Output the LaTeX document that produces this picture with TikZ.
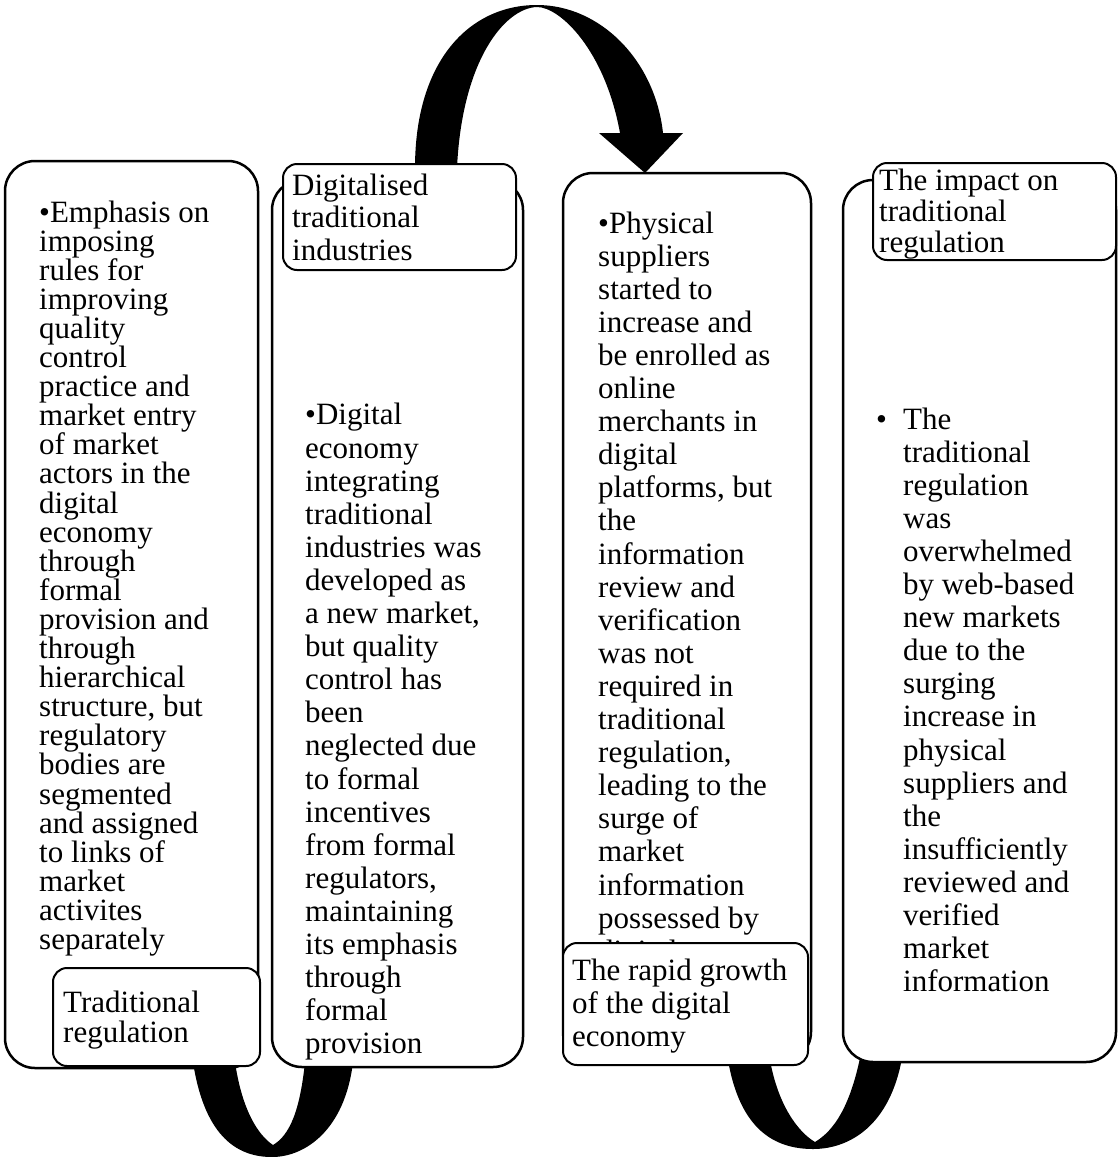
\documentclass[tikz,border=0pt]{standalone}
\usepackage{fontspec}
\setmainfont{Liberation Serif}
\begin{document}
\begin{tikzpicture}[x=1pt,y=-1pt,
  bigbox/.style={draw=black,fill=white,line width=2.5pt,rounded corners=30pt},
  labelbox/.style={draw=black,fill=white,line width=2pt,rounded corners=14pt},
  bodytext/.style={anchor=base west,align=left,inner sep=0pt,font=\fontsize{31}{33.1}\selectfont},
  band/.style={fill=black}]
\useasboundingbox (0,0) rectangle (1117,1157);
% the curved bands
\fill[band] (415,168) .. controls (415,60) and (470,5) .. (537,5) .. controls (600,5) and (655,60) .. (663,133) -- (683,133) -- (645,173) -- (599,133) -- (620,133) .. controls (605,50) and (560,7) .. (537,7) .. controls (505,8) and (462,60) .. (457,168) -- cycle;
\fill[band] (193,1062) .. controls (205,1140) and (240,1157) .. (272,1157) .. controls (305,1157) and (345,1130) .. (353,1062) -- (305,1062) .. controls (300,1110) and (290,1135) .. (273,1145) .. controls (258,1135) and (242,1110) .. (235,1062) -- cycle;
\fill[band] (728,1060) .. controls (740,1130) and (775,1149) .. (813,1149) .. controls (850,1149) and (890,1125) .. (902,1058) -- (860,1058) .. controls (850,1105) and (835,1130) .. (815,1142) .. controls (798,1132) and (778,1105) .. (770,1060) -- cycle;
% columns (text anchored at the baseline of its last line)
\draw[bigbox] (5,161) rectangle (258,1068);
\draw[bigbox] (272,180) rectangle (523,1067);
\draw[bigbox] (563,173) rectangle (811,1062);
\draw[bigbox] (843,180) rectangle (1116,1062);
\node[bodytext,font=\fontsize{31}{29.1}\selectfont] (tradtxt) at (39,949.5) {•Emphasis on\\imposing\\rules for\\improving\\quality\\control\\practice and\\market entry\\of market\\actors in the\\digital\\economy\\through\\formal\\provision and\\through\\hierarchical\\structure, but\\regulatory\\bodies are\\segmented\\and assigned\\to links of\\market\\activites\\separately};
\node[bodytext] (digitxt) at (305,1053.8) {•Digital\\economy\\integrating\\traditional\\industries was\\developed as\\a new market,\\but quality\\control has\\been\\neglected due\\to formal\\incentives\\from formal\\regulators,\\maintaining\\its emphasis\\through\\formal\\provision};
\node[bodytext] (growtxt) at (598,961.2) {•Physical\\suppliers\\started to\\increase and\\be enrolled as\\online\\merchants in\\digital\\platforms, but\\the\\information\\review and\\verification\\was not\\required in\\traditional\\regulation,\\leading to the\\surge of\\market\\information\\possessed by\\digital};
\node[bodytext] (imptxt) at (903,991.7) {\llap{\makebox[27pt][l]{•}}The\\traditional\\regulation\\was\\overwhelmed\\by web-based\\new markets\\due to the\\surging\\increase in\\physical\\suppliers and\\the\\insufficiently\\reviewed and\\verified\\market\\information};
% labels
\draw[labelbox] (53,968) rectangle (260,1066);
\node[bodytext,font=\fontsize{31}{30}\selectfont] (tradlbl) at (63,1042) {Traditional\\regulation};
\draw[labelbox] (283,164) rectangle (516,270);
\node[bodytext,font=\fontsize{31}{32.5}\selectfont] (digilbl) at (292,260) {Digitalised\\traditional\\industries};
\draw[labelbox] (563,943) rectangle (808,1065);
\node[bodytext,font=\fontsize{31}{33}\selectfont] (growlbl) at (572,1046) {The rapid growth\\of the digital\\economy};
\draw[labelbox] (873,163) rectangle (1116,260);
\node[bodytext,font=\fontsize{31}{31}\selectfont] (implbl) at (879,252) {The impact on\\traditional\\regulation};
\end{tikzpicture}
\end{document}
